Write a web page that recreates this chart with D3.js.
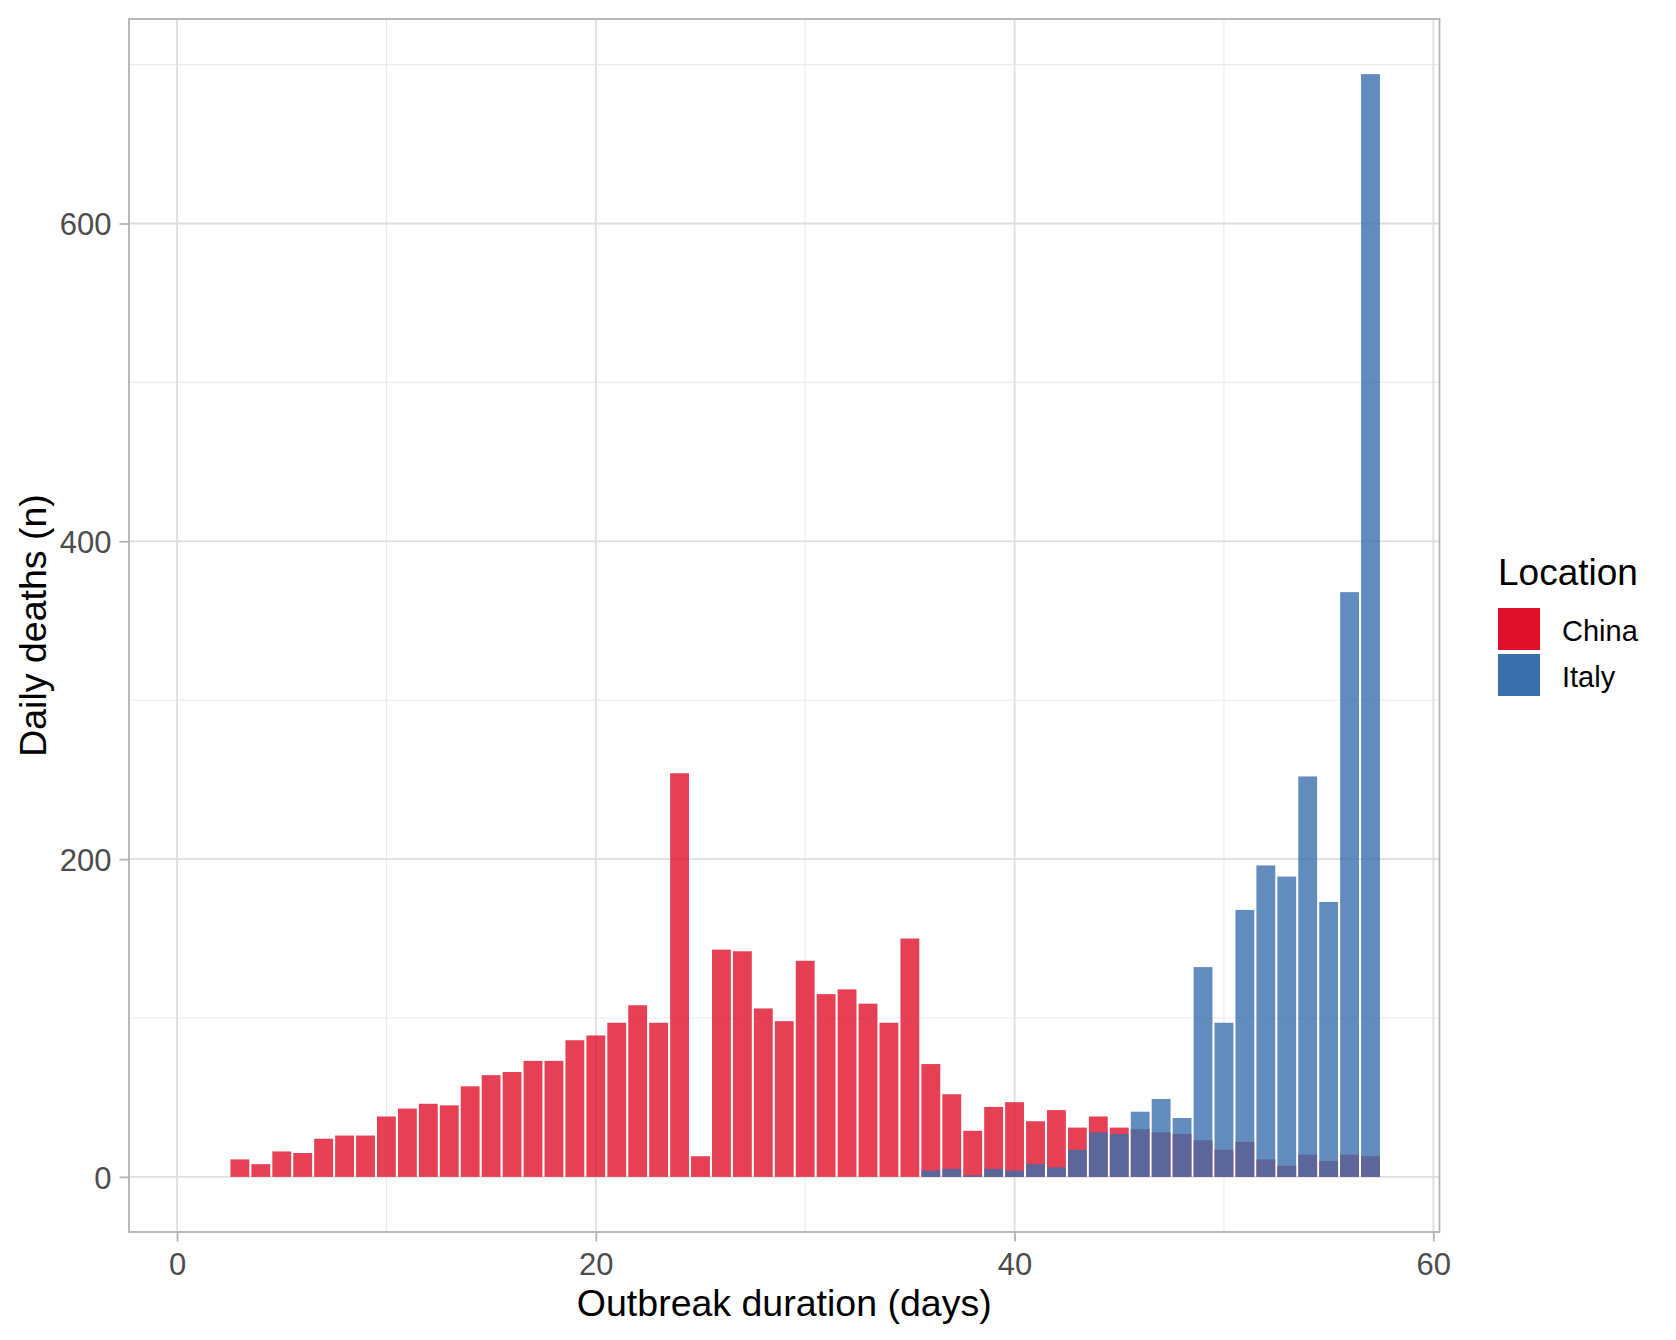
<!DOCTYPE html>
<html><head><meta charset="utf-8">
<script src="https://cdn.jsdelivr.net/npm/d3@7/dist/d3.min.js"></script>
<style>
body{margin:0;background:#fff}
svg{display:block}
text{font-family:"Liberation Sans",Arial,Helvetica,sans-serif}
</style>
</head><body>
<svg id="chart" width="1676" height="1340"></svg>
<script>
// ---- data ----
const chinaDays = [3,4,5,6,7,8,9,10,11,12,13,14,15,16,17,18,19,20,21,22,23,24,25,26,27,28,29,30,31,32,33,34,35,36,37,38,39,40,41,42,43,44,45,46,47,48,49,50,51,52,53,54,55,56,57];
const chinaDeaths = [11,8,16,15,24,26,26,38,43,46,45,57,64,66,73,73,86,89,97,108,97,254,13,143,142,106,98,136,115,118,109,97,150,71,52,29,44,47,35,42,31,38,31,30,28,27,23,17,22,11,7,14,10,14,13];
const italyDays = [36,37,38,39,40,41,42,43,44,45,46,47,48,49,50,51,52,53,54,55,56,57];
const italyDeaths = [4,5,1,5,4,8,6,17,28,27,41,49,37,132,97,168,196,189,252,173,368,694];
const locations = ["China","Italy"];
const fillColors = ["#E0102A","#3A6FAD"];
const xTicks = [0,20,40,60];
const xMinor = [10,30,50];
const yTicks = [0,200,400,600];
const yMinor = [100,300,500,700];
const xTitle = "Outbreak duration (days)";
const yTitle = "Daily deaths (n)";
const legendTitle = "Location";

// ---- layout ----
const P = {left:129, right:1439.5, top:19, bottom:1232};
const svg = d3.select("#chart");

const series = [
  {name:locations[0], color:fillColors[0], data:chinaDays.map((d,i)=>({day:d, n:chinaDeaths[i]}))},
  {name:locations[1], color:fillColors[1], data:italyDays.map((d,i)=>({day:d, n:italyDeaths[i]}))}
];
const allDays = chinaDays.concat(italyDays);
const halfW = 0.45;
const xlo = 1 - halfW, xhi = d3.max(allDays) + halfW; // days start at 1 (zero values before day 3)
const xs = xhi - xlo;
const x = d3.scaleLinear().domain([xlo - 0.05*xs, xhi + 0.05*xs]).range([P.left, P.right]);
const ymax = d3.max(chinaDeaths.concat(italyDeaths));
const y = d3.scaleLinear().domain([-0.05*ymax, ymax*1.05]).range([P.bottom, P.top]);

// grid
const g = svg.append("g");
g.selectAll(".ymin").data(yMinor).join("line")
  .attr("x1",P.left).attr("x2",P.right).attr("y1",d=>y(d)).attr("y2",d=>y(d))
  .attr("stroke","#EBEBEB").attr("stroke-width",1.1);
g.selectAll(".xmin").data(xMinor).join("line")
  .attr("y1",P.top).attr("y2",P.bottom).attr("x1",d=>x(d)).attr("x2",d=>x(d))
  .attr("stroke","#EBEBEB").attr("stroke-width",1.1);
g.selectAll(".ymaj").data(yTicks).join("line")
  .attr("x1",P.left).attr("x2",P.right).attr("y1",d=>y(d)).attr("y2",d=>y(d))
  .attr("stroke","#DEDEDE").attr("stroke-width",1.8);
g.selectAll(".xmaj").data(xTicks).join("line")
  .attr("y1",P.top).attr("y2",P.bottom).attr("x1",d=>x(d)).attr("x2",d=>x(d))
  .attr("stroke","#DEDEDE").attr("stroke-width",1.8);

// bars
series.forEach(s=>{
  svg.append("g").selectAll("rect").data(s.data).join("rect")
    .attr("x",d=>x(d.day-halfW))
    .attr("width",d=>x(d.day+halfW)-x(d.day-halfW))
    .attr("y",d=>y(Math.max(0,d.n)))
    .attr("height",d=>Math.abs(y(0)-y(d.n)))
    .attr("fill",s.color).attr("fill-opacity",0.8);
});

// panel border
svg.append("rect").attr("x",P.left).attr("y",P.top)
  .attr("width",P.right-P.left).attr("height",P.bottom-P.top)
  .attr("fill","none").attr("stroke","#B3B3B3").attr("stroke-width",1.8);

// axes
const ax = svg.append("g").attr("transform",`translate(0,${P.bottom})`)
  .call(d3.axisBottom(x).tickValues(xTicks).tickSize(9.5).tickPadding(10).tickFormat(d3.format("d")));
const ay = svg.append("g").attr("transform",`translate(${P.left},0)`)
  .call(d3.axisLeft(y).tickValues(yTicks).tickSize(9.5).tickPadding(8).tickFormat(d3.format("d")));
[ax,ay].forEach(a=>{
  a.select(".domain").remove();
  a.selectAll(".tick line").attr("stroke","#B3B3B3").attr("stroke-width",1.8);
  a.selectAll(".tick text").attr("fill","#4D4D4D").style("font-size","31px")
    .style("font-family",'"Liberation Sans",Arial,sans-serif');
});
ax.selectAll(".tick text").attr("dy","0.75em");
ay.selectAll(".tick text").attr("dy","0.36em");

// titles
svg.append("text").attr("x",(P.left+P.right)/2).attr("y",1316)
  .attr("text-anchor","middle").style("font-size","37.5px").attr("fill","#000").text(xTitle);
svg.append("text").attr("transform",`translate(46,${(P.top+P.bottom)/2}) rotate(-90)`)
  .attr("text-anchor","middle").style("font-size","37.5px").attr("fill","#000").text(yTitle);

// legend
const lg = svg.append("g");
lg.append("text").attr("x",1498).attr("y",585).style("font-size","37px").attr("fill","#000").text(legendTitle);
series.forEach((s,i)=>{
  const ky = 608 + i*46;
  lg.append("rect").attr("x",1498).attr("y",ky).attr("width",42).attr("height",42).attr("fill",s.color);
  lg.append("text").attr("x",1562).attr("y",ky+21+12).style("font-size","29px").attr("fill","#000").text(s.name);
});
</script>
</body></html>
